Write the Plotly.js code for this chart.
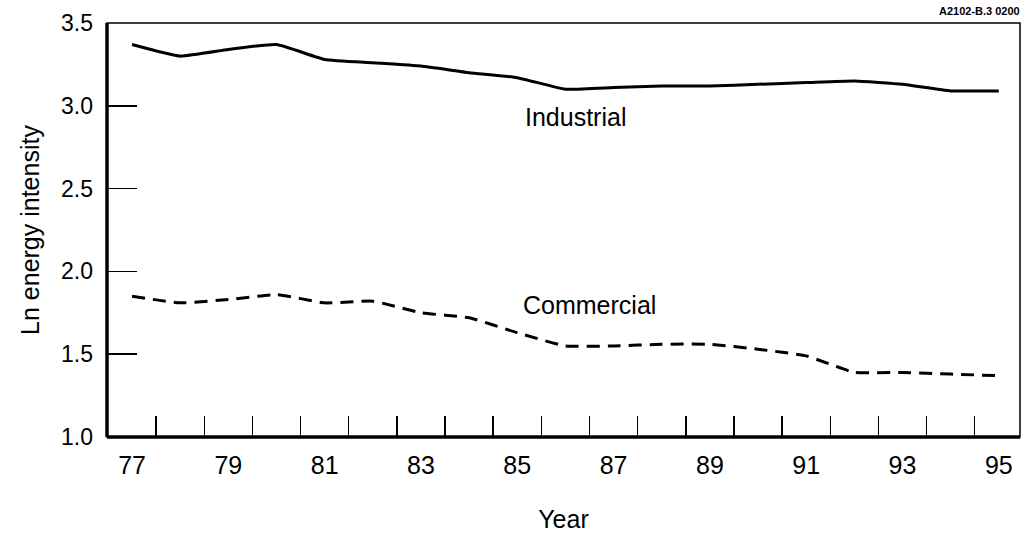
<!DOCTYPE html>
<html>
<head>
<meta charset="utf-8">
<script src="https://cdn.plot.ly/plotly-3.0.1.min.js"></script>
<style>html,body{margin:0;padding:0;background:#fff;}#chart{width:1027px;height:537px;}</style>
</head>
<body>
<div id="chart"></div>
<script>
const years = [77,78,79,80,81,82,83,84,85,86,87,88,89,90,91,92,93,94,95];
const industrial = [3.37,3.30,3.34,3.37,3.28,3.26,3.24,3.20,3.17,3.10,3.11,3.12,3.12,3.13,3.14,3.15,3.13,3.09,3.09];
const commercial = [1.85,1.81,1.83,1.86,1.81,1.82,1.75,1.72,1.63,1.55,1.55,1.56,1.56,1.53,1.49,1.39,1.39,1.38,1.37];
const xTickVals = [77,79,81,83,85,87,89,91,93,95];
const xTickText = ['77','79','81','83','85','87','89','91','93','95'];
const xMinorTicks = [77.5,78.5,79.5,80.5,81.5,82.5,83.5,84.5,85.5,86.5,87.5,88.5,89.5,90.5,91.5,92.5,93.5,94.5];
const yTickVals = [1.0,1.5,2.0,2.5,3.0,3.5];
const yTickText = ['1.0','1.5','2.0','2.5','3.0','3.5'];
const seriesNames = ['Industrial','Commercial'];

const font = '"Liberation Sans", Arial, Helvetica, sans-serif';

const traces = [
  {x: years, y: industrial, name: seriesNames[0], type: 'scatter', mode: 'lines',
   line: {color: '#000', width: 3, shape: 'spline', smoothing: 0.4}},
  {x: years, y: commercial, name: seriesNames[1], type: 'scatter', mode: 'lines',
   line: {color: '#000', width: 3, dash: '13px,8px', shape: 'spline', smoothing: 0.4}}
];

const layout = {
  width: 1027, height: 537,
  margin: {l: 107, r: 7, t: 23, b: 100},
  paper_bgcolor: '#fff', plot_bgcolor: '#fff',
  showlegend: false,
  font: {family: font, color: '#000'},
  xaxis: {
    range: [76.48, 95.44],
    tickmode: 'array', tickvals: xTickVals, ticktext: xTickText,
    ticks: '', ticklabelstandoff: 11,
    tickfont: {size: 25, family: font},
    showgrid: false, zeroline: false, showline: false,
    minor: {tickmode: 'array', tickvals: xMinorTicks, ticks: 'inside', ticklen: 21, tickwidth: 1.5, tickcolor: '#000', showgrid: false},
    title: {text: 'Year', font: {size: 25, family: font}, standoff: 32}
  },
  yaxis: {
    range: [1.0, 3.5],
    tickmode: 'array', tickvals: yTickVals, ticktext: yTickText,
    ticks: 'inside', ticklen: 30, tickwidth: 1.5, tickcolor: '#000',
    ticklabelstandoff: 13,
    tickfont: {size: 23, family: font},
    showgrid: false, zeroline: false, showline: false,
    title: {text: 'Ln energy intensity', font: {size: 25, family: font}, standoff: 14}
  },
  shapes: [
    {type: 'rect', xref: 'paper', yref: 'paper', x0: 0, x1: 1, y0: 0, y1: 1, line: {color: '#000', width: 1.5}},
    {type: 'line', xref: 'paper', yref: 'paper', x0: 0, x1: 0, y0: 0, y1: 1, line: {color: '#000', width: 3.5}},
    {type: 'line', xref: 'paper', yref: 'paper', x0: 0, x1: 1, y0: 0, y1: 0, line: {color: '#000', width: 3.5}}
  ],
  annotations: [
    {x: 86.2, y: 2.93, xref: 'x', yref: 'y', text: seriesNames[0], showarrow: false, font: {size: 25, family: font}},
    {x: 86.5, y: 1.80, xref: 'x', yref: 'y', text: seriesNames[1], showarrow: false, font: {size: 25, family: font}},
    {x: 1, y: 1, xref: 'paper', yref: 'paper', xanchor: 'right', yanchor: 'bottom', yshift: 4, xshift: 2,
     text: '<b>A2102-B.3 0200</b>', showarrow: false, font: {size: 11, family: font}}
  ]
};

Plotly.newPlot('chart', traces, layout, {staticPlot: true, displayModeBar: false});
</script>
</body>
</html>
